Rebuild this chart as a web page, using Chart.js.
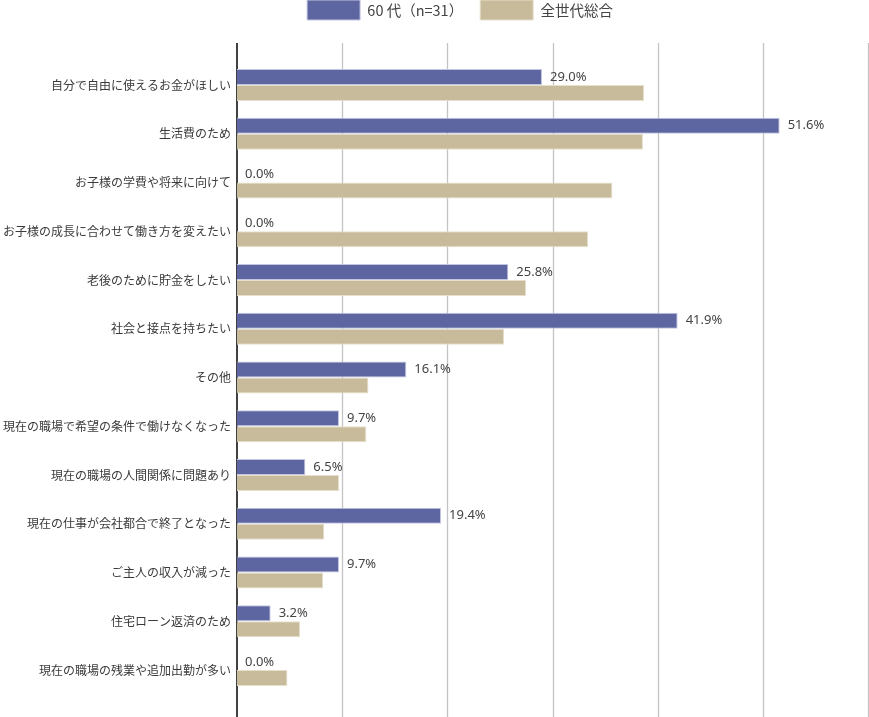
<!DOCTYPE html>
<html>
<head>
<meta charset="utf-8">
<script src="https://cdn.jsdelivr.net/npm/chart.js@4/dist/chart.umd.min.js"></script>
<style>
html,body{margin:0;padding:0;background:#fff;}
#wrap{position:relative;width:869px;height:717px;overflow:hidden;}
#box{position:absolute;left:0;top:-17px;width:869px;height:734px;}
</style>
</head>
<body>
<div id="wrap"><div id="box"><canvas id="c"></canvas></div></div>
<script>
const categories = [
  "自分で自由に使えるお金がほしい",
  "生活費のため",
  "お子様の学費や将来に向けて",
  "お子様の成長に合わせて働き方を変えたい",
  "老後のために貯金をしたい",
  "社会と接点を持ちたい",
  "その他",
  "現在の職場で希望の条件で働けなくなった",
  "現在の職場の人間関係に問題あり",
  "現在の仕事が会社都合で終了となった",
  "ご主人の収入が減った",
  "住宅ローン返済のため",
  "現在の職場の残業や追加出勤が多い"
];
const seriesNames = ["60 代（n=31）", "全世代総合"];
const sixties = [29.0, 51.6, 0.0, 0.0, 25.8, 41.9, 16.1, 9.7, 6.5, 19.4, 9.7, 3.2, 0.0];
const overall = [38.7, 38.6, 35.7, 33.4, 27.5, 25.4, 12.5, 12.3, 9.7, 8.3, 8.2, 6.0, 4.8];
const xTicks = [0, 10, 20, 30, 40, 50, 60];

const gridPlugin = {
  id: 'extGrid',
  afterLayout(chart) {
    if (chart.legend) { chart.legend.left += 52; }
  },
  beforeDatasetsDraw(chart) {
    const ctx = chart.ctx, xs = chart.scales.x;
    const top = 43 + 17, bottom = 734;
    ctx.save();
    xTicks.forEach(v => {
      const x = Math.round(xs.getPixelForValue(v));
      ctx.beginPath();
      if (v === 0) { ctx.strokeStyle = '#111'; ctx.lineWidth = 1.6; }
      else { ctx.strokeStyle = '#c4c4c4'; ctx.lineWidth = 1.3; }
      ctx.moveTo(x + (v === 0 ? 0 : 0.5), top);
      ctx.lineTo(x + (v === 0 ? 0 : 0.5), bottom);
      ctx.stroke();
    });
    ctx.restore();
  }
};

const labelPlugin = {
  id: 'valLabels',
  afterDatasetsDraw(chart) {
    const ctx = chart.ctx;
    const meta = chart.getDatasetMeta(0);
    ctx.save();
    ctx.font = '13px "Noto Sans", "Liberation Sans", sans-serif';
    ctx.fillStyle = '#444';
    ctx.textAlign = 'left';
    ctx.textBaseline = 'middle';
    meta.data.forEach((bar, i) => {
      const v = sixties[i];
      ctx.fillText(v.toFixed(1) + '%', bar.x + 8, bar.y);
    });
    ctx.restore();
  }
};

new Chart(document.getElementById('c'), {
  type: 'bar',
  data: {
    labels: categories,
    datasets: [
      { label: seriesNames[0], data: sixties, backgroundColor: '#5e66a2', borderColor: '#c3c6e0', borderWidth: 1, borderSkipped: 'left' },
      { label: seriesNames[1], data: overall, backgroundColor: '#c8bb9b', borderColor: '#e6dfcc', borderWidth: 1, borderSkipped: 'left' }
    ]
  },
  options: {
    indexAxis: 'y',
    responsive: true,
    maintainAspectRatio: false,
    animation: false,
    layout: { padding: { left: 0, right: 1, top: 0, bottom: 22.6 } },
    datasets: { bar: { barPercentage: 1, categoryPercentage: 0.656 } },
    plugins: {
      legend: {
        position: 'top',
        labels: {
          boxWidth: 53, boxHeight: 20, padding: 17,
          color: '#444',
          font: { size: 14.5, family: '"Noto Sans CJK JP", sans-serif' }
        }
      },
      tooltip: { enabled: false }
    },
    scales: {
      x: {
        position: 'top',
        min: 0, max: 60,
        afterBuildTicks: s => { s.ticks = xTicks.map(v => ({ value: v })); },
        afterFit: s => { s.height = 30.6; },
        ticks: { display: false },
        grid: { display: false, drawTicks: false },
        border: { display: false }
      },
      y: {
        afterFit: s => { s.width = 237; },
        grid: { display: false, drawTicks: false },
        border: { display: false },
        ticks: {
          padding: 6,
          color: '#3a3a3a',
          font: { size: 12, family: '"Noto Sans CJK JP", sans-serif' }
        }
      }
    }
  },
  plugins: [gridPlugin, labelPlugin]
});
</script>
</body>
</html>
